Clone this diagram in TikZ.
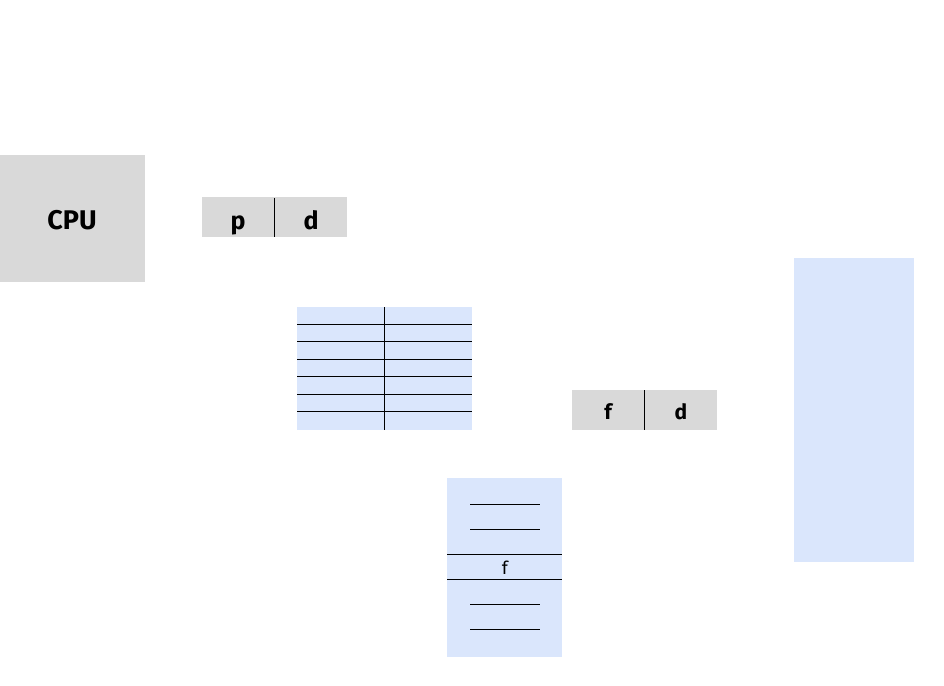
\documentclass[tikz,border=0pt]{standalone}
\usepackage{fontspec}
\setmainfont{Fira Sans}
\begin{document}
\begin{tikzpicture}[x=1pt,y=-1pt,
  graybox/.style={fill=cpugray,draw=none,inner sep=0pt,anchor=north west},
  bluebox/.style={fill=memblue,draw=none,inner sep=0pt,anchor=north west},
  sep/.style={draw=black,line width=1pt},
  big/.style={font=\fontsize{25}{25}\selectfont\bfseries,anchor=base,inner sep=0pt},
  mid/.style={font=\fontsize{21}{21}\selectfont\bfseries,anchor=base,inner sep=0pt},
  small/.style={font=\fontsize{18}{18}\selectfont,anchor=base,inner sep=0pt}]
\definecolor{cpugray}{RGB}{217,217,217}
\definecolor{memblue}{RGB}{218,230,252}
\useasboundingbox (0,0) rectangle (944,685);
% CPU
\node[graybox,minimum width=145pt,minimum height=127pt] (cpu) at (0,155) {};
\node[font=\fontsize{27}{27}\selectfont\bfseries,anchor=base,inner sep=0pt] (cpulbl) at (72,229.5) {CPU};
% logical address p|d
\node[graybox,minimum width=145pt,minimum height=40pt] (la) at (202,197) {};
\draw[sep] (274,198) -- (274,237);
\node[big] (lp) at (238,229) {p};
\node[big] (ld) at (311,229) {d};
% page table
\node[bluebox,minimum width=175pt,minimum height=123pt] (pt) at (297,307) {};
\draw[sep] (384,307) -- (384,430);
\foreach \yy in {324,341.5,359,376.5,394,411.5}
  \draw[sep] (297,\yy) -- (472,\yy);
% physical address f|d
\node[graybox,minimum width=145pt,minimum height=40pt] (pa) at (572,390) {};
\draw[sep] (644,390) -- (644,430);
\node[mid] (pf) at (608,419.5) {f};
\node[mid] (pd) at (681,419.5) {d};
% physical memory frames
\node[bluebox,minimum width=115pt,minimum height=179pt] (mem) at (447,478) {};
\foreach \yy in {504,529,604,629}
  \draw[sep] (470,\yy) -- (540,\yy);
\draw[sep] (447,554) -- (562,554);
\draw[sep] (447,579) -- (562,579);
\node[small] (mf) at (505,574) {f};
% tall memory
\node[bluebox,minimum width=120pt,minimum height=304pt] (pm) at (794,258) {};
\end{tikzpicture}
\end{document}
